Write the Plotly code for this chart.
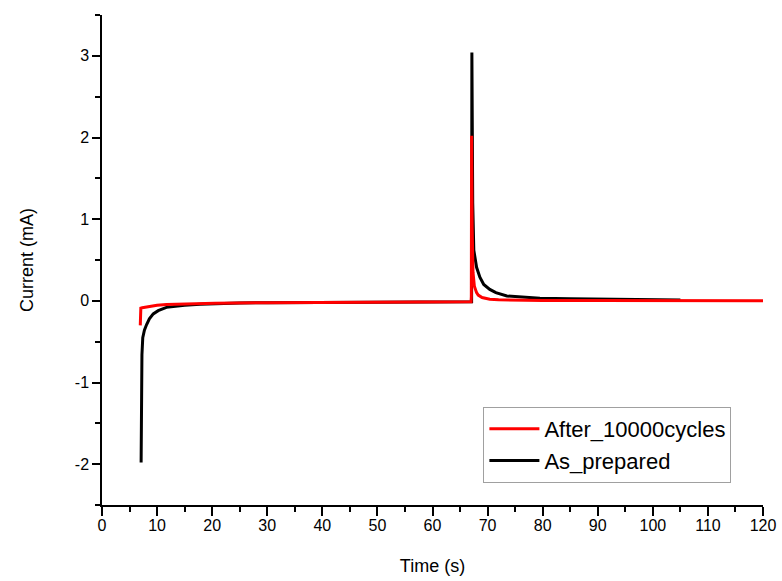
import plotly.graph_objects as go

# As_prepared (black)
t_prep = [7.1, 7.15, 7.2, 7.25, 7.4, 7.7, 8.1, 8.6, 9.3, 10.2, 11.7, 13.5, 15.0, 17.8, 20.5,
          25.0, 30.0, 40.0, 50.0, 60.0, 67.1, 67.15, 67.3, 67.5, 67.75, 68.0, 68.6, 69.3,
          70.4, 71.5, 73.5, 76.0, 79.5, 85.0, 90.0, 95.0, 100.0, 105.0]
i_prep = [-1.98, -1.4, -1.0, -0.66, -0.45, -0.36, -0.29, -0.22, -0.16, -0.12, -0.08, -0.065,
          -0.055, -0.042, -0.035, -0.028, -0.022, -0.018, -0.015, -0.013, -0.012, 3.04, 1.2,
          0.62, 0.5, 0.41, 0.29, 0.2, 0.14, 0.1, 0.06, 0.045, 0.032, 0.025, 0.02, 0.016,
          0.013, 0.011]

# After_10000cycles (red)
t_after = [6.95, 7.0, 7.05, 7.3, 8.0, 9.0, 10.0, 11.7, 13.0, 17.0, 20.5, 30.0, 40.0, 50.0,
           60.0, 67.0, 67.05, 67.1, 67.2, 67.35, 67.6, 68.0, 68.3, 69.0, 70.4, 72.0, 75.0,
           80.0, 90.0, 100.0, 110.0, 120.0]
i_after = [-0.3, -0.2, -0.09, -0.085, -0.075, -0.065, -0.055, -0.045, -0.042, -0.035, -0.03,
           -0.022, -0.018, -0.014, -0.012, -0.01, 0.05, 2.02, 0.9, 0.35, 0.18, 0.1, 0.07,
           0.04, 0.02, 0.012, 0.008, 0.005, 0.003, 0.002, 0.002, 0.002]

x_ticks = list(range(0, 121, 10))
y_ticks = [-2, -1, 0, 1, 2, 3]

fig = go.Figure()
fig.add_trace(go.Scatter(x=t_prep, y=i_prep, mode="lines", name="As_prepared",
                         line=dict(color="black", width=3), legendrank=2))
fig.add_trace(go.Scatter(x=t_after, y=i_after, mode="lines", name="After_10000cycles",
                         line=dict(color="#ff0000", width=3), legendrank=1))

font_family = "Liberation Sans, Arial, sans-serif"
fig.update_layout(
    width=782, height=581,
    margin=dict(l=102, r=19, t=15, b=76, autoexpand=False),
    paper_bgcolor="white", plot_bgcolor="white",
    font=dict(family=font_family, color="black"),
    showlegend=True,
    legend=dict(x=0.577, y=0.2, xanchor="left", yanchor="top",
                bordercolor="#a0a0a0", borderwidth=1, bgcolor="white",
                font=dict(size=22, family=font_family, color="black"),
                itemwidth=50, tracegroupgap=0),
)
fig.update_xaxes(range=[0, 120], tickvals=x_ticks, ticktext=[str(v) for v in x_ticks],
                 ticks="outside", ticklen=9, tickwidth=1.5, tickcolor="black",
                 showline=True, linecolor="black", linewidth=1.5, showgrid=False, zeroline=False,
                 tickfont=dict(size=16), automargin=False, ticklabelstandoff=-4,
                 minor=dict(dtick=5, tick0=0, ticks="outside", ticklen=5, tickwidth=1.5, tickcolor="black"),
                 title=dict(text="Time (s)", font=dict(size=18), standoff=26))
fig.update_yaxes(range=[-2.5, 3.5], tickvals=y_ticks, ticktext=[str(v) for v in y_ticks],
                 ticks="outside", ticklen=8, tickwidth=1.5, tickcolor="black",
                 showline=True, linecolor="black", linewidth=1.5, showgrid=False, zeroline=False,
                 tickfont=dict(size=16), automargin=False,
                 minor=dict(dtick=0.5, tick0=0, ticks="outside", ticklen=5, tickwidth=1.5, tickcolor="black"),
                 title=dict(text="Current (mA)", font=dict(size=18), standoff=37))

fig.write_html("out.html", config={"displayModeBar": False},
               post_script="document.body.style.margin='0';document.body.style.padding='0';")
